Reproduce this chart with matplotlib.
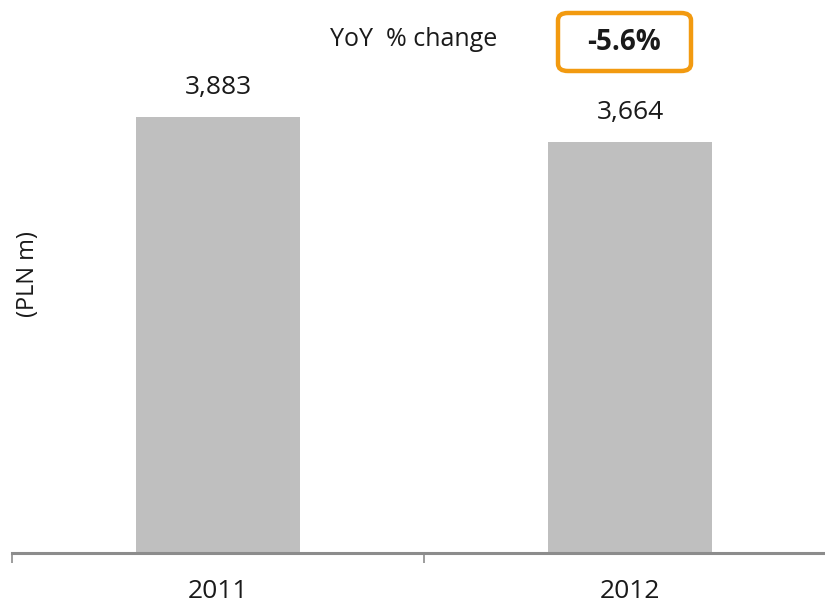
import matplotlib
matplotlib.use("Agg")
import matplotlib.pyplot as plt
from matplotlib.patches import FancyBboxPatch

years = ["2011", "2012"]
values = [3883, 3664]
yoy_label = "-5.6%"

plt.rcParams["font.family"] = ["Open Sans", "DejaVu Sans"]

fig = plt.figure(figsize=(8.25, 6.05), dpi=100)
# axis spans the full category band; right edge runs past the canvas
ax = fig.add_axes([12 / 825, 52 / 605, 824 / 825, 553 / 605])

x = range(len(years))
ax.bar(x, values, width=0.4, color="#bfbfbf", zorder=2)
ax.set_xlim(-0.5, 1.5)
ax.set_ylim(0, values[0] * 553 / 436)

for xi, v in zip(x, values):
    ax.annotate(f"{v:,}", (xi, v), xytext=(0, 12), textcoords="offset points",
                ha="center", va="bottom", fontsize=19, color="#1a1a1a")

for side in ("top", "right", "left"):
    ax.spines[side].set_visible(False)
ax.spines["bottom"].set_color("#8c8c8c")
ax.spines["bottom"].set_linewidth(2.2)
ax.set_yticks([])
ax.set_xticks(list(x))
ax.set_xticklabels(years, fontsize=19, color="#1a1a1a")
ax.tick_params(axis="x", which="major", length=0, pad=19)
ax.set_xticks([-0.5, 0.5, 1.5], minor=True)
ax.tick_params(axis="x", which="minor", length=7, width=1.2, color="#8c8c8c")

fig.text(28 / 825, 1 - 274 / 605, "(PLN m)", rotation=90, ha="center",
         va="center", fontsize=17, color="#1a1a1a")

fig.text(414 / 825, 1 - 40 / 605, "YoY  % change", ha="center", va="center",
         fontsize=18, color="#1a1a1a")
box = FancyBboxPatch((558 / 825, 1 - 71 / 605), 133 / 825, 58 / 605,
                     boxstyle="round,pad=0,rounding_size=0.012",
                     transform=fig.transFigure, fill=False,
                     edgecolor="#f29a10", linewidth=3.2)
fig.add_artist(box)
fig.text(624 / 825, 1 - 43 / 605, yoy_label, ha="center", va="center",
         fontsize=20, fontweight="bold", color="#1a1a1a")

fig.savefig("out.png", dpi=100)
